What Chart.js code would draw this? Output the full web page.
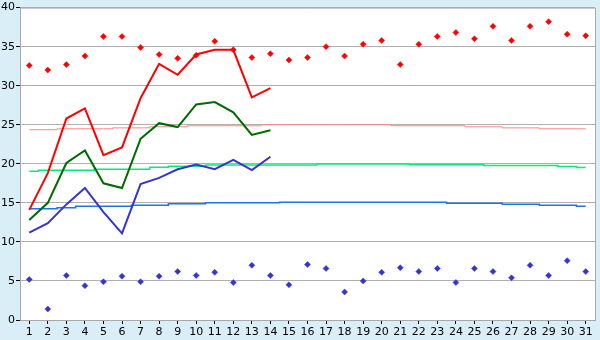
<!DOCTYPE html>
<html>
<head>
<meta charset="utf-8">
<script src="https://cdn.jsdelivr.net/npm/chart.js@4"></script>
<style>
  html, body { margin: 0; padding: 0; background: #d9eef6; }
  #wrap { width: 600px; height: 340px; }
</style>
</head>
<body>
<div id="wrap"><canvas id="grafico"></canvas></div>
<script>
// dias do mes
const dias = ['1','2','3','4','5','6','7','8','9','10','11','12','13','14','15','16',
  '17','18','19','20','21','22','23','24','25','26','27','28','29','30','31'];

// recordes
const recordeMax = [32.6,32.0,32.7,33.8,36.3,36.3,34.9,34.0,33.5,33.9,35.7,34.6,33.6,34.1,33.3,
  33.6,35.0,33.8,35.3,35.8,32.7,35.3,36.3,36.8,36.0,37.6,35.8,37.6,38.2,36.6,36.4];
const recordeMin = [5.2,1.4,5.7,4.4,4.9,5.6,4.9,5.6,6.2,5.7,6.1,4.8,7.0,5.7,4.5,
  7.1,6.6,3.6,5.0,6.1,6.7,6.2,6.6,4.8,6.6,6.2,5.4,7.0,5.7,7.6,6.2];

// valores do mes (ate dia 14)
const tempMax = [14.1,18.8,25.8,27.1,21.1,22.1,28.4,32.8,31.4,34.0,34.6,34.6,28.5,29.7];
const tempMed = [12.8,15.0,20.1,21.7,17.5,16.9,23.2,25.2,24.7,27.6,27.9,26.6,23.7,24.3];
const tempMin = [11.2,12.4,14.8,16.9,13.8,11.1,17.4,18.2,19.3,19.9,19.3,20.5,19.2,20.9];

// normais
const normalMax = [24.36,24.36,24.48,24.48,24.48,24.6,24.6,24.74,24.74,24.87,24.87,24.87,24.87,
  25.0,25.0,25.0,25.0,25.0,25.0,25.0,24.87,24.87,24.87,24.87,24.74,24.74,24.6,24.6,24.48,24.48,24.48];
const normalMed = [19.06,19.19,19.19,19.19,19.31,19.31,19.31,19.55,19.7,19.7,19.85,19.85,19.85,
  19.85,19.85,19.85,19.97,19.97,19.97,19.97,19.97,19.88,19.88,19.88,19.88,19.77,19.77,19.77,19.77,19.65,19.52];
const normalMin = [14.23,14.23,14.36,14.57,14.57,14.57,14.7,14.7,14.87,14.87,15.0,15.0,15.0,15.0,
  15.08,15.08,15.08,15.08,15.08,15.08,15.08,15.08,15.08,14.95,14.95,14.95,14.83,14.83,14.7,14.7,14.57];

const yTicks = [0,5,10,15,20,25,30,35,40];

// fundo branco na area do grafico + borda
const fundo = {
  id: 'fundo',
  beforeDraw(chart) {
    const { ctx, chartArea: a } = chart;
    ctx.save();
    ctx.fillStyle = '#ffffff';
    ctx.fillRect(a.left, a.top, a.right - a.left, a.bottom - a.top);
    ctx.restore();
  },
  afterDraw(chart) {
    const { ctx, chartArea: a } = chart;
    ctx.save();
    ctx.strokeStyle = '#a8a8a8';
    ctx.lineWidth = 1;
    ctx.beginPath();
    ctx.moveTo(a.left, a.top + 0.5);
    ctx.lineTo(a.right + 0.5, a.top + 0.5);
    ctx.lineTo(a.right + 0.5, a.bottom);
    ctx.stroke();
    ctx.restore();
  }
};

function linha(dados, cor, larg, ordem, degrau) {
  return {
    data: dados,
    borderColor: cor,
    backgroundColor: cor,
    borderWidth: larg,
    pointRadius: 0,
    tension: 0,
    stepped: degrau ? 'middle' : false,
    order: ordem
  };
}

function pontos(dados, cor) {
  return {
    data: dados,
    showLine: false,
    pointStyle: 'rectRot',
    pointRadius: 3,
    borderWidth: 0.5,
    borderColor: cor,
    backgroundColor: cor,
    order: 1
  };
}

new Chart(document.getElementById('grafico'), {
  type: 'line',
  data: {
    labels: dias,
    datasets: [
      pontos(recordeMax, '#ff0000'),
      pontos(recordeMin, '#3535cc'),
      linha(tempMax, '#ff0000', 2, 2),
      linha(tempMed, '#006a00', 2, 2),
      linha(tempMin, '#3535cc', 2, 2),
      linha(normalMax, '#ff8585', 1, 5, true),
      linha(normalMed, '#00ee77', 1.5, 5, true),
      linha(normalMin, '#1a75ee', 1.5, 5, true)
    ]
  },
  options: {
    responsive: true,
    maintainAspectRatio: false,
    animation: false,
    layout: { padding: { top: 5, right: 5, left: 0, bottom: 0 } },
    plugins: { legend: { display: false }, tooltip: { enabled: false } },
    scales: {
      x: {
        offset: true,
        grid: { display: true, drawOnChartArea: false, drawTicks: true, tickLength: 4, tickColor: '#000000', offset: false },
        border: { color: '#a8a8a8' },
        ticks: { color: '#000000', font: { family: 'DejaVu Sans', size: 11 }, padding: 2, maxRotation: 0, autoSkip: false },
        afterFit(s) { s.height = 20; }
      },
      y: {
        min: 0,
        max: 40,
        afterBuildTicks(s) { s.ticks = yTicks.map(v => ({ value: v })); },
        grid: { color: '#b0b0b0', tickLength: 4, tickColor: '#000000' },
        border: { color: '#a8a8a8' },
        ticks: { color: '#000000', font: { family: 'DejaVu Sans', size: 11 }, padding: 1 },
        afterFit(s) { s.width = 20; }
      }
    }
  },
  plugins: [fundo]
});
</script>
</body>
</html>
